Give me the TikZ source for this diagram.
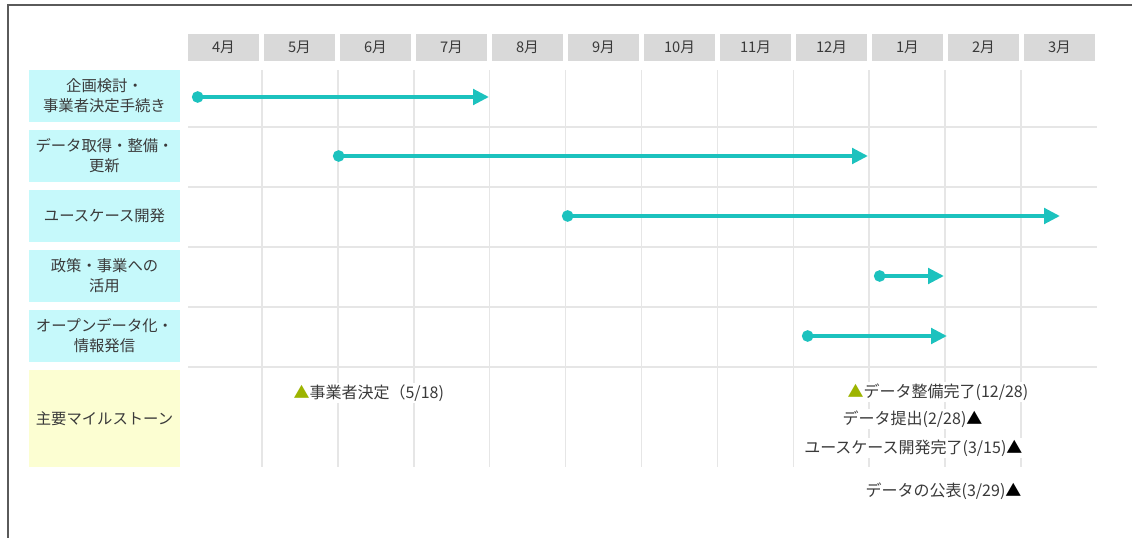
\documentclass[tikz,border=0pt]{standalone}
\usepackage{fontspec}
\setmainfont{Noto Sans CJK JP}
\usetikzlibrary{arrows.meta,positioning}
\definecolor{barteal}{HTML}{1CC2BE}
\definecolor{taskcyan}{HTML}{C6F9FB}
\definecolor{mileyellow}{HTML}{FCFED2}
\definecolor{hdrgray}{HTML}{D9D9D9}
\definecolor{gridgray}{HTML}{E6E6E6}
\definecolor{txtgray}{HTML}{3A3A3A}
\definecolor{msgreen}{HTML}{9DB400}
\definecolor{framegray}{HTML}{5A5A5A}

\begin{document}
\begin{tikzpicture}[x=0.75pt,y=-0.75pt,
        month/.style={fill=hdrgray,minimum width=53.5pt,minimum height=20.5pt,inner sep=0pt,outer sep=0pt,
          font=\fontsize{11}{12}\selectfont,text=txtgray},
        task/.style={fill=taskcyan,text width=113.25pt,minimum height=39pt,align=center,inner sep=0pt,outer sep=0pt,
          font=\fontsize{11.5}{15}\selectfont,text=txtgray},
        mile/.style={task,fill=mileyellow,minimum height=72.75pt},
        gridline/.style={draw=gridgray,line width=1.1pt},
        bar/.style={{Circle[length=8.5pt]}-{Triangle[length=12pt,width=11.5pt]},draw=barteal,fill=barteal,line width=3.7pt},
        mstext/.style={fill=white,inner sep=1pt,font=\fontsize{12}{14}\selectfont,text=txtgray},
        frame/.style={draw=framegray,line width=1.4pt}]
        \useasboundingbox (0,0) rectangle (1132,538);
        \draw[frame] (8,538) -- (8,5) -- (1132,5);
        % month header
        \node[month] (m1) at (223.5,47.5) {4月};
        \foreach \m [count=\i from 2, remember=\i as \j (initially 1)] in {5,6,7,8,9,10,11,12,1,2,3}
          \node[month,right=3.5pt of m\j] (m\i) {{\m}月};
        % grid
        \foreach \k in {0,...,10}
          \draw[gridline] (262+75.9*\k,70) -- (262+75.9*\k,467);
        \foreach \y in {127,187,247,307,367}
          \draw[gridline] (188,\y) -- (1097,\y);
        % task rows
        \node[task] (t1) at (104.5,96) {企画検討・\\事業者決定手続き};
        \node[task,below=6pt of t1] (t2) {データ取得・整備・\\更新};
        \node[task,below=6pt of t2] (t3) {ユースケース開発};
        \node[task,below=6pt of t3] (t4) {政策・事業への\\活用};
        \node[task,below=6pt of t4] (t5) {オープンデータ化・\\情報発信};
        \node[mile,below=6pt of t5] (ms) {主要マイルストーン};
        % bars
        \coordinate (s1) at (192,97);  \coordinate (e1) at (489,97);
        \coordinate (s2) at (333,156); \coordinate (e2) at (868,156);
        \coordinate (s3) at (562,216); \coordinate (e3) at (1060,216);
        \coordinate (s4) at (874,276); \coordinate (e4) at (944,276);
        \coordinate (s5) at (802,336); \coordinate (e5) at (947,336);
        \foreach \i in {1,...,5} \draw[bar] (s\i) -- (e\i);
        % milestones
        \node[mstext,anchor=west] (ms1) at (292,393) {\textcolor{msgreen}{▲}事業者決定（5/18)};
        \node[mstext,anchor=west] (ms2) at (846,392) {\textcolor{msgreen}{▲}データ整備完了(12/28)};
        \node[mstext,anchor=east] (ms3) at (984,419) {データ提出(2/28)\textcolor{black}{▲}};
        \node[mstext,anchor=east] (ms4) at (1024,448) {ユースケース開発完了(3/15)\textcolor{black}{▲}};
        \node[mstext,anchor=east] (ms5) at (1023,491) {データの公表(3/29)\textcolor{black}{▲}};
      \end{tikzpicture}
\end{document}
